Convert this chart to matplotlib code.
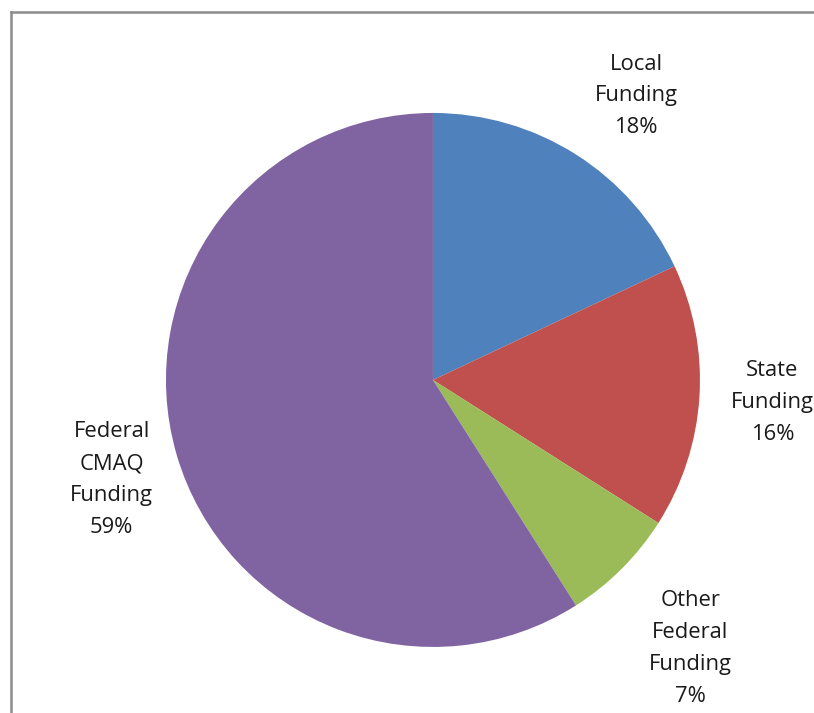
import matplotlib.pyplot as plt
from matplotlib.lines import Line2D

labels = ["Local\nFunding", "State\nFunding", "Other\nFederal\nFunding", "Federal\nCMAQ\nFunding"]
shares = [18, 16, 7, 59]
colors = ["#4F81BD", "#C0504D", "#9BBB59", "#8064A2"]

plt.rcParams['font.family'] = ['Open Sans', 'DejaVu Sans']

fig = plt.figure(figsize=(8.14, 7.13), dpi=100)
ax = fig.add_axes([0.2039, 0.0926, 0.656, 0.749])

wedges, texts = ax.pie(
    shares,
    labels=[f"{l}\n{s}%" for l, s in zip(labels, shares)],
    colors=colors,
    startangle=90,
    counterclock=False,
    labeldistance=1.3,
    textprops=dict(fontsize=15.8, color="#1a1a1a", linespacing=1.68),
)
# small label nudges (pixels, radius = 267 px) to match the original placement
nudges = [(17, -9), (-7, -1), (12, -23), (12, -3)]
for t, (dx, dy) in zip(texts, nudges):
    x, y = t.get_position()
    t.set_position((x + dx / 267, y + dy / 267))
    t.set_horizontalalignment("center")
    t.set_verticalalignment("center")
ax.set_xlim(-1, 1)
ax.set_ylim(-1, 1)
ax.set_aspect("equal")

# chart frame, cropped on right and bottom
fig.add_artist(Line2D([11/814, 11/814], [0, 1 - 12/713], color="#8c8c8c", lw=1.8,
                      transform=fig.transFigure))
fig.add_artist(Line2D([11/814, 1], [1 - 12/713, 1 - 12/713], color="#8c8c8c", lw=1.8,
                      transform=fig.transFigure))

fig.savefig("out.png", dpi=100)
